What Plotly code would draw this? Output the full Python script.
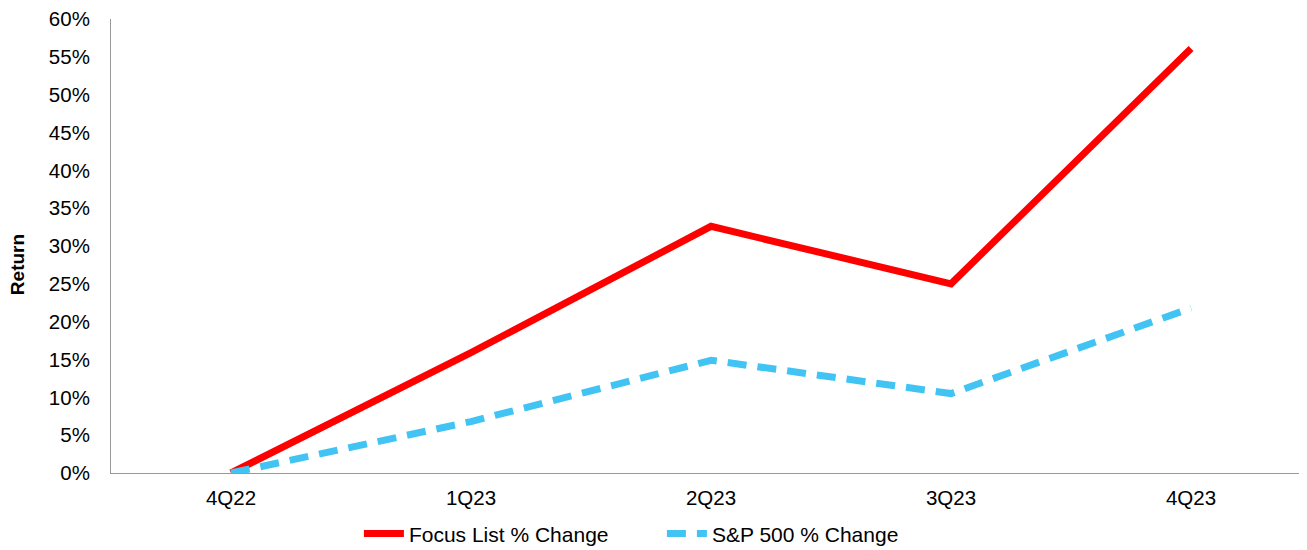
import plotly.graph_objects as go

quarters = ["4Q22", "1Q23", "2Q23", "3Q23", "4Q23"]
focus_list = [0.0, 15.9, 32.6, 25.0, 56.1]
sp500 = [0.0, 6.8, 14.9, 10.5, 21.8]
y_ticks = [0, 5, 10, 15, 20, 25, 30, 35, 40, 45, 50, 55, 60]
y_tick_labels = [f"{v}%" for v in y_ticks]

FONT = "Liberation Sans, Arial, sans-serif"

fig = go.Figure()
fig.add_trace(go.Scatter(
    x=quarters, y=focus_list, mode="lines", name="Focus List % Change",
    line=dict(color="#FF0000", width=7),
))
fig.add_trace(go.Scatter(
    x=quarters, y=sp500, mode="lines", name="S&P 500 % Change",
    line=dict(color="#41C4F4", width=7, dash="19px,11px"),
))

# page body adds an 8px offset, so the figure is sized to fit the window
fig.update_layout(
    width=1299, height=542,
    margin=dict(l=103, r=7, t=11, b=77, autoexpand=False),
    paper_bgcolor="white", plot_bgcolor="white",
    font=dict(family=FONT, size=20, color="#000000"),
    showlegend=True,
    legend=dict(
        orientation="h", xref="paper", yref="paper",
        x=0.2085, xanchor="left", y=-0.134, yanchor="middle",
        font=dict(size=21), itemwidth=40, traceorder="normal",
        entrywidth=248, entrywidthmode="pixels",
        bgcolor="rgba(0,0,0,0)",
    ),
    xaxis=dict(
        type="category", range=[-0.5, 4.454], automargin=False,
        showline=True, linecolor="#999999", linewidth=1,
        showgrid=False, zeroline=False, ticks="",
        ticklabelstandoff=6,
        tickfont=dict(size=20.5),
    ),
    yaxis=dict(
        range=[0, 60], tickvals=y_ticks, ticktext=y_tick_labels, automargin=False,
        showline=True, linecolor="#999999", linewidth=1,
        showgrid=False, zeroline=False, ticks="",
        ticklabelstandoff=16, ticklabeloverflow="allow",
        tickfont=dict(size=20.5),
    ),
    annotations=[dict(
        text="<b>Return</b>", textangle=-90, showarrow=False,
        xref="paper", yref="paper", x=-0.079, y=0.458,
        xanchor="center", yanchor="middle",
        font=dict(size=19, family=FONT),
    )],
)

fig.write_html("out.html")
